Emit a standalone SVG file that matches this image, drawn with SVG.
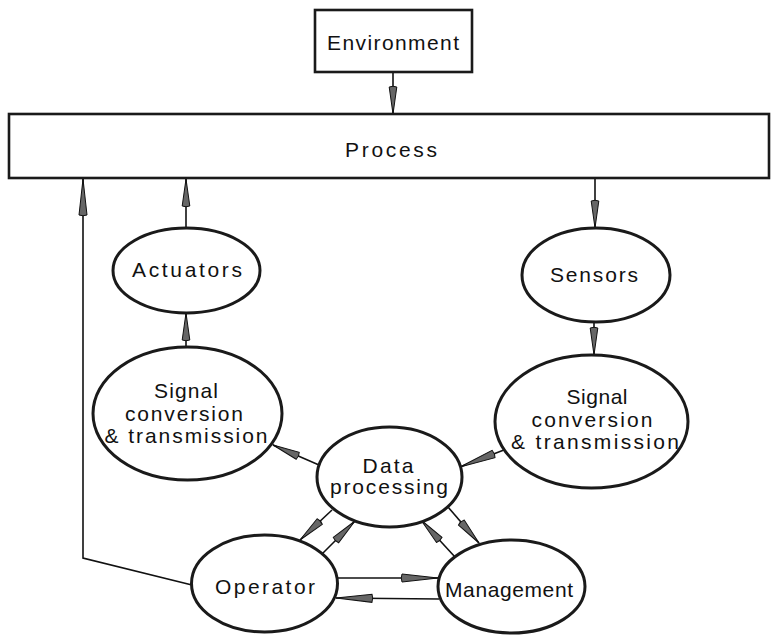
<svg xmlns="http://www.w3.org/2000/svg" width="771" height="635" viewBox="0 0 771 635">
<style>
.node{fill:#fff;stroke:#1a1a1a;stroke-width:3}
.box{fill:#fff;stroke:#1a1a1a;stroke-width:2.6}
.lbl{font-family:"Liberation Sans",Arial,sans-serif;font-size:21px;fill:#111;text-anchor:middle}
.con{fill:none;stroke:#111;stroke-width:1.6}
</style>
<defs>
<marker id="dart" markerUnits="userSpaceOnUse" viewBox="0 0 32 10" markerWidth="32" markerHeight="10" refX="30" refY="5" orient="auto">
<path d="M3,1.2 Q1.5,5 3,8.8 L30,5 Z" fill="#666" stroke="#111" stroke-width="1"/>
</marker>
<marker id="dartL" markerUnits="userSpaceOnUse" viewBox="0 0 41 10" markerWidth="41" markerHeight="10" refX="39" refY="5" orient="auto">
<path d="M3,1 Q1.5,5 3,9 L39,5 Z" fill="#666" stroke="#111" stroke-width="1"/>
</marker>
</defs>

<g id="connectors">
<line class="con" x1="393" y1="72" x2="393" y2="114" marker-end="url(#dart)"/>
<line class="con" x1="186" y1="228" x2="186" y2="179" marker-end="url(#dart)"/>
<line class="con" x1="595" y1="179" x2="595" y2="228" marker-end="url(#dart)"/>
<line class="con" x1="186" y1="347" x2="186" y2="313" marker-end="url(#dart)"/>
<line class="con" x1="594" y1="322" x2="594" y2="355" marker-end="url(#dart)"/>
<line class="con" x1="319" y1="465" x2="273" y2="445" marker-end="url(#dart)"/>
<line class="con" x1="509" y1="448" x2="460" y2="467" marker-end="url(#dartL)"/>
<line class="con" x1="332" y1="510" x2="300" y2="540" marker-end="url(#dart)"/>
<line class="con" x1="322" y1="554" x2="355" y2="521" marker-end="url(#dart)"/>
<line class="con" x1="455" y1="557" x2="421" y2="520" marker-end="url(#dart)"/>
<line class="con" x1="448" y1="507" x2="479" y2="543" marker-end="url(#dart)"/>
<line class="con" x1="337" y1="578" x2="438" y2="578" marker-end="url(#dartL)"/>
<line class="con" x1="439" y1="599" x2="336" y2="598" marker-end="url(#dartL)"/>
<polyline class="con" points="192,585 83,558 83,179" marker-end="url(#dartL)"/>
</g>

<g id="environment">
<rect class="box" x="315" y="10" width="157" height="62" stroke-width="3.2"/>
<text class="lbl" x="393" y="50" textLength="132" lengthAdjust="spacing">Environment</text>
</g>

<g id="process">
<rect class="box" x="9" y="114" width="760" height="64"/>
<text class="lbl" x="391" y="157" textLength="92" lengthAdjust="spacing">Process</text>
</g>

<g id="actuators">
<ellipse class="node" cx="186.5" cy="270.5" rx="73.5" ry="42.5"/>
<text class="lbl" x="187" y="277" textLength="110" lengthAdjust="spacing">Actuators</text>
</g>

<g id="sensors">
<ellipse class="node" cx="596" cy="275" rx="74" ry="47"/>
<text class="lbl" x="594" y="282" textLength="88" lengthAdjust="spacing">Sensors</text>
</g>

<g id="signal-left">
<ellipse class="node" cx="187.5" cy="413.5" rx="94.5" ry="66.5"/>
<text class="lbl" x="186" y="398" textLength="64" lengthAdjust="spacing">Signal</text>
<text class="lbl" x="184" y="421" textLength="118" lengthAdjust="spacing">conversion</text>
<text class="lbl" x="186" y="443" textLength="163" lengthAdjust="spacing">&amp; transmission</text>
</g>

<g id="signal-right">
<ellipse class="node" cx="591.5" cy="421.5" rx="96.5" ry="66.5"/>
<text class="lbl" x="597" y="404" textLength="61" lengthAdjust="spacing">Signal</text>
<text class="lbl" x="592" y="427" textLength="121" lengthAdjust="spacing">conversion</text>
<text class="lbl" x="595" y="449" textLength="168" lengthAdjust="spacing">&amp; transmission</text>
</g>

<g id="data-processing">
<ellipse class="node" cx="389.5" cy="477" rx="72.5" ry="50"/>
<text class="lbl" x="388" y="473" textLength="51" lengthAdjust="spacing">Data</text>
<text class="lbl" x="389" y="494" textLength="118" lengthAdjust="spacing">processing</text>
</g>

<g id="operator">
<ellipse class="node" cx="264.5" cy="583.5" rx="73" ry="48.5"/>
<text class="lbl" x="265" y="594" textLength="100" lengthAdjust="spacing">Operator</text>
</g>

<g id="management">
<ellipse class="node" cx="511.5" cy="586.5" rx="73.5" ry="46.5"/>
<text class="lbl" x="509" y="597" textLength="128" lengthAdjust="spacing">Management</text>
</g>
</svg>
